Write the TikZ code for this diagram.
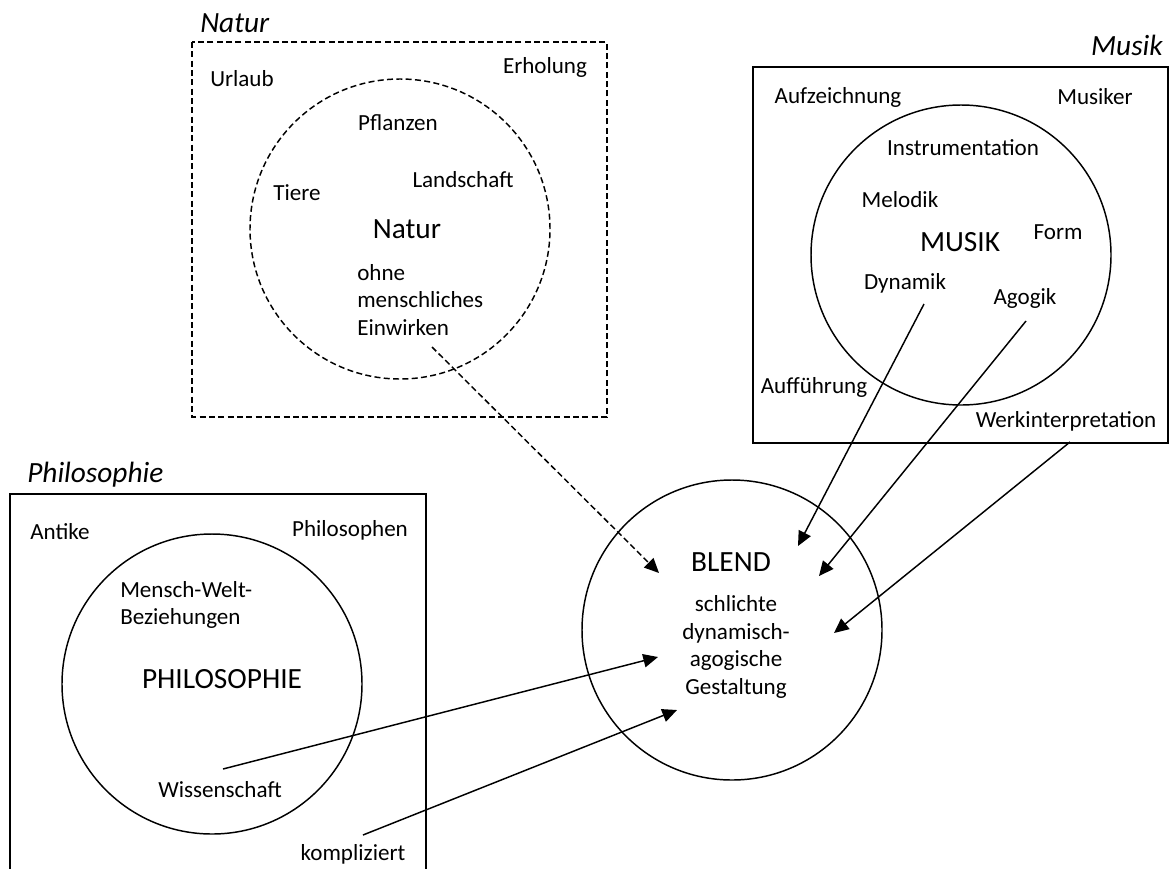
\documentclass[tikz,border=0pt]{standalone}
\usepackage{fontspec}
\setmainfont{Carlito}
\usetikzlibrary{positioning,arrows.meta}
\tikzstyle{term} = [inner sep=0pt, font=\fontsize{17.3}{20}\selectfont]
\tikzstyle{bigterm} = [inner sep=0pt, font=\fontsize{22}{26}\selectfont]
\tikzstyle{heading} = [inner sep=0pt, font=\fontsize{22}{26}\selectfont\itshape]
\tikzstyle{multiline} = [inner sep=0pt, font=\fontsize{17.3}{20.6}\selectfont]
\tikzstyle{sphere} = [circle, draw=black, line width=1.1pt, minimum size=225pt, inner sep=0pt]
\tikzstyle{framebox} = [draw=black, line width=1.1pt]
\tikzstyle{dashline} = [dash pattern=on 4.5pt off 2.5pt]
\tikzstyle{arrow} = [line width=1.1pt, -{Triangle[length=11pt,width=10pt]}]

\begin{document}
\begin{tikzpicture}[x=0.75pt, y=-0.75pt]

\useasboundingbox (0,0) rectangle (1170,868);

% Natur
\draw [framebox, dashline] (192,42) rectangle (607,417);
\node (naturTitel) [heading, anchor=west] at (200,23) {Natur};
\node (naturKreis) [sphere, dashline] at (400,229) {};
\node (urlaub) [term] at (242,79) {Urlaub};
\node (erholung) [term] at (545,67) {Erholung};
\node (pflanzen) [term] at (398,123) {Pflanzen};
\node (landschaft) [term] at (463,180) {Landschaft};
\node (tiere) [term] at (297,193) {Tiere};
\node (natur) [bigterm] at (407,229) {Natur};
\node (einwirken) [multiline, align=left, anchor=west] at (357,300) {ohne\\menschliches\\Einwirken};

% Musik
\draw [framebox] (753,67) rectangle (1168,443);
\node (musikTitel) [heading, anchor=east] at (1163,45) {Musik};
\node (musikKreis) [sphere] at (961,255) {};
\node (aufzeichnung) [term] at (838,97) {Aufzeichnung};
\node (musiker) [term] at (1095,97) {Musiker};
\node (instrumentation) [term] at (963,148) {Instrumentation};
\node (melodik) [term] at (900,200) {Melodik};
\node (form) [term] at (1058,232) {Form};
\node (musik) [bigterm] at (960,242) {MUSIK};
\node (dynamik) [term] at (905,283) {Dynamik};
\node (agogik) [term] at (1025,298) {Agogik};
\node (auffuehrung) [term] at (814,387) {Aufführung};
\node (werk) [term] at (1066,421) {Werkinterpretation};

% Philosophie
\draw [framebox] (10,880) |- (426,494) -- (426,880);
\node (philoTitel) [heading, anchor=west] at (27,475) {Philosophie};
\node (philoKreis) [sphere] at (212,684) {};
\node (antike) [term] at (60,532) {Antike};
\node (philosophen) [term] at (350,530) {Philosophen};
\node (beziehungen) [multiline, align=left, anchor=west] at (120,605) {Mensch-Welt-\\Beziehungen};
\node (philosophie) [bigterm] at (222,679) {PHILOSOPHIE};
\node (wissenschaft) [term] at (220,790) {Wissenschaft};
\node (kompliziert) [term] at (353,854) {kompliziert};

% Blend
\node (blendKreis) [sphere] at (732,630) {};
\node (blend) [bigterm] at (731,562) {BLEND};
\node (gestaltung) [multiline, align=center] at (736,647) {schlichte\\dynamisch-\\agogische\\Gestaltung};

\coordinate (vonNatur) at (432,347);
\coordinate (vonDynamik) at (924,304);
\coordinate (vonAgogik) at (1026,321);
\coordinate (vonWerk) at (1070,442);
\coordinate (vonWissenschaft) at (223,769);
\coordinate (vonKompliziert) at (363,835);

\coordinate (zuNatur) at (659,573);
\coordinate (zuDynamik) at (798,546);
\coordinate (zuAgogik) at (819,576);
\coordinate (zuWerk) at (834,633);
\coordinate (zuWissenschaft) at (658,657);
\coordinate (zuKompliziert) at (677,710);

\draw [arrow, dashline] (vonNatur) -- (zuNatur);
\draw [arrow] (vonDynamik) -- (zuDynamik);
\draw [arrow] (vonAgogik) -- (zuAgogik);
\draw [arrow] (vonWerk) -- (zuWerk);
\draw [arrow] (vonWissenschaft) -- (zuWissenschaft);
\draw [arrow] (vonKompliziert) -- (zuKompliziert);

\end{tikzpicture}
\end{document}
